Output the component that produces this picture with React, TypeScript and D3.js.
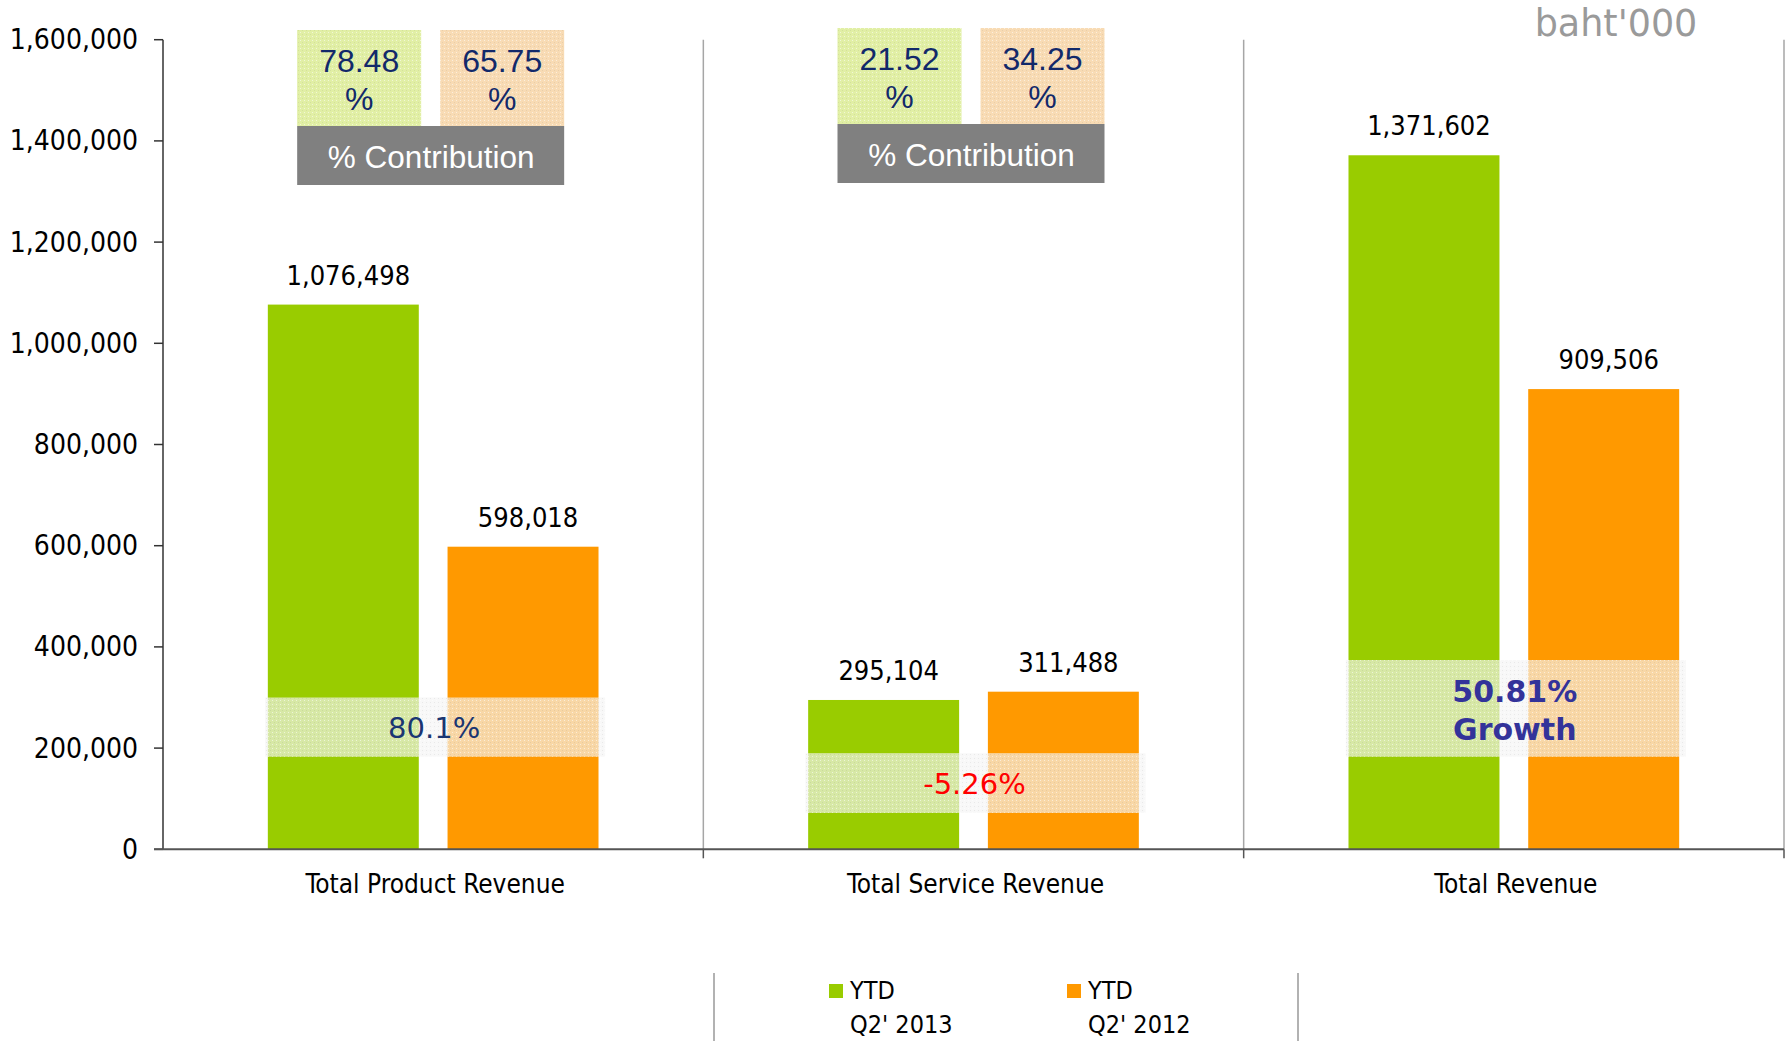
import React from 'react';
import * as d3 from 'd3';

const categories = ['Total Product Revenue', 'Total Service Revenue', 'Total Revenue'];
const seriesKeys = ['2013', '2012'];
const legendLine1 = ['YTD', 'YTD'];
const legendLine2 = ["Q2' 2013", "Q2' 2012"];
const ytd2013 = [1076498, 295104, 1371602];
const ytd2012 = [598018, 311488, 909506];
const yTicks = [0, 200000, 400000, 600000, 800000, 1000000, 1200000, 1400000, 1600000];
const growthLines = [['80.1%'], ['-5.26%'], ['50.81%', 'Growth']];
const growthBandLow = [183000, 72000, 183000];
const growthBandHigh = [300000, 190000, 374000];
const contribution2013 = ['78.48', '21.52'];
const contribution2012 = ['65.75', '34.25'];
const contributionTitle = '% Contribution';
const unitLabel = "baht'000";

const W = 1790;
const H = 1041;
const GREEN = '#99cc00';
const ORANGE = '#ff9900';
const CONDENSED = "'DejaVu Sans Condensed', 'DejaVu Sans', sans-serif";
const ARIAL = "'Liberation Sans', Arial, sans-serif";
const DEJAVU = "'DejaVu Sans', sans-serif";

export default function App() {
  const axisX = 163;
  const x = d3.scaleBand<string>().domain(categories).range([163, 1784]).paddingInner(0).paddingOuter(0);
  const bw = x.bandwidth();
  const inner = d3.scaleBand<string>().domain(seriesKeys).range([bw * 0.194, bw * 0.806]).paddingInner(0.16).paddingOuter(0);
  const y = d3.scaleLinear().domain([0, 1600000]).range([849.3, 39.7]);
  const fmt = d3.format(',');
  const values = [ytd2013, ytd2012];
  const colors = [GREEN, ORANGE];
  const growthColors = ['#1b3672', '#ff0000', '#33339a'];

  return (
    <svg width={W} height={H} style={{ position: 'absolute', left: 0, top: 0, background: '#fff' }}>
      <defs>
        <pattern id="dots" width="4" height="4" patternUnits="userSpaceOnUse">
          <rect width="4" height="4" fill="none" />
          <rect x="0" y="0" width="1" height="1" fill="#ffffff" opacity="0.55" />
          <rect x="2" y="2" width="1" height="1" fill="#000000" opacity="0.06" />
        </pattern>
      </defs>
      <rect width={W} height={H} fill="#fff" />

      {/* unit label */}
      <text x={1616} y={36} textAnchor="middle" fontFamily={DEJAVU} fontSize={36.5} fill="#9a9a9a">{unitLabel}</text>

      {/* category separators */}
      {categories.map((c, i) => {
        const xr = (x(c) as number) + bw;
        return (
          <g key={'sep' + i}>
            <line x1={xr} x2={xr} y1={y(1600000)} y2={y(0)} stroke="#a6a6a6" strokeWidth={1.5} />
            <line x1={xr} x2={xr} y1={y(0)} y2={y(0) + 9} stroke="#555" strokeWidth={1.5} />
          </g>
        );
      })}

      {/* bars */}
      {categories.map((c, i) => (
        <g key={'bars' + i}>
          {seriesKeys.map((s, j) => {
            const bx = (x(c) as number) + (inner(s) as number);
            return (
              <rect key={s} x={bx} y={y(values[j][i])} width={inner.bandwidth()} height={y(0) - y(values[j][i])} fill={colors[j]} />
            );
          })}
        </g>
      ))}

      {/* growth overlay bands */}
      {categories.map((c, i) => {
        const cx = (x(c) as number) + bw / 2;
        const top = y(growthBandHigh[i]);
        const bot = y(growthBandLow[i]);
        const lines = growthLines[i];
        const bold = lines.length > 1;
        return (
          <g key={'gr' + i}>
            <rect x={cx - 168} y={top} width={340} height={bot - top} fill="#f5f5f5" opacity={0.68} />
            <rect x={cx - 168} y={top} width={340} height={bot - top} fill="url(#dots)" />
            {lines.map((t, k) => (
              <text key={k} x={cx + 1} y={bold ? top + 42 + k * 38 : (top + bot) / 2 + 11}
                textAnchor="middle" fontFamily={DEJAVU} fontWeight={bold ? 'bold' : 'normal'}
                fontSize={bold ? 30 : 29} fill={growthColors[i]}>{t}</text>
            ))}
          </g>
        );
      })}

      {/* value labels */}
      {categories.map((c, i) => (
        <g key={'vl' + i}>
          {seriesKeys.map((s, j) => {
            const bx = (x(c) as number) + (inner(s) as number) + inner.bandwidth() / 2;
            return (
              <text key={s} x={bx + 5} y={y(values[j][i]) - 20} textAnchor="middle"
                fontFamily={CONDENSED} fontSize={27} fill="#000">{fmt(values[j][i])}</text>
            );
          })}
        </g>
      ))}

      {/* contribution boxes */}
      {contribution2013.map((v, i) => {
        const cx = (x(categories[i]) as number) + bw / 2;
        const top = i === 0 ? 30 : 28;
        return (
          <g key={'cb' + i}>
            <rect x={cx - 136} y={top} width={124} height={96} fill="#e1efa5" />
            <rect x={cx + 7} y={top} width={124} height={96} fill="#f8dbb4" />
            <rect x={cx - 136} y={top} width={124} height={96} fill="url(#dots)" />
            <rect x={cx + 7} y={top} width={124} height={96} fill="url(#dots)" />
            <rect x={cx - 136} y={top + 96} width={267} height={59} fill="#808080" />
            <text x={cx - 74} y={top + 42} textAnchor="middle" fontFamily={ARIAL} fontSize={32} fill="#12296a">{v}</text>
            <text x={cx - 74} y={top + 80} textAnchor="middle" fontFamily={ARIAL} fontSize={32} fill="#12296a">%</text>
            <text x={cx + 69} y={top + 42} textAnchor="middle" fontFamily={ARIAL} fontSize={32} fill="#12296a">{contribution2012[i]}</text>
            <text x={cx + 69} y={top + 80} textAnchor="middle" fontFamily={ARIAL} fontSize={32} fill="#12296a">%</text>
            <text x={cx - 2} y={top + 138} textAnchor="middle" fontFamily={ARIAL} fontSize={31.5} fill="#ffffff">{contributionTitle}</text>
          </g>
        );
      })}

      {/* y axis */}
      <line x1={axisX} x2={axisX} y1={y(1600000)} y2={y(0)} stroke="#333" strokeWidth={1.5} />
      {yTicks.map((t) => (
        <g key={'yt' + t}>
          <line x1={axisX - 9} x2={axisX} y1={y(t)} y2={y(t)} stroke="#333" strokeWidth={1.5} />
          <text x={axisX - 25} y={y(t) + 9.5} textAnchor="end" fontFamily={CONDENSED} fontSize={28} fill="#000">{fmt(t)}</text>
        </g>
      ))}

      {/* x axis */}
      <line x1={axisX - 9} x2={1784} y1={y(0)} y2={y(0)} stroke="#555" strokeWidth={2} />
      {categories.map((c) => (
        <text key={'xl' + c} x={(x(c) as number) + bw / 2 + 2} y={893} textAnchor="middle"
          fontFamily={CONDENSED} fontSize={26} fill="#000">{c}</text>
      ))}

      {/* legend */}
      <line x1={714} x2={714} y1={973} y2={H} stroke="#999" strokeWidth={1.5} />
      <line x1={1298} x2={1298} y1={973} y2={H} stroke="#999" strokeWidth={1.5} />
      {seriesKeys.map((s, j) => {
        const lx = 829 + j * 238;
        return (
          <g key={'lg' + s}>
            <rect x={lx} y={984} width={14} height={14} fill={colors[j]} />
            <text x={lx + 21} y={999} fontFamily={CONDENSED} fontSize={25} fill="#000">{legendLine1[j]}</text>
            <text x={lx + 21} y={1033} fontFamily={CONDENSED} fontSize={25} fill="#000">{legendLine2[j]}</text>
          </g>
        );
      })}
    </svg>
  );
}
